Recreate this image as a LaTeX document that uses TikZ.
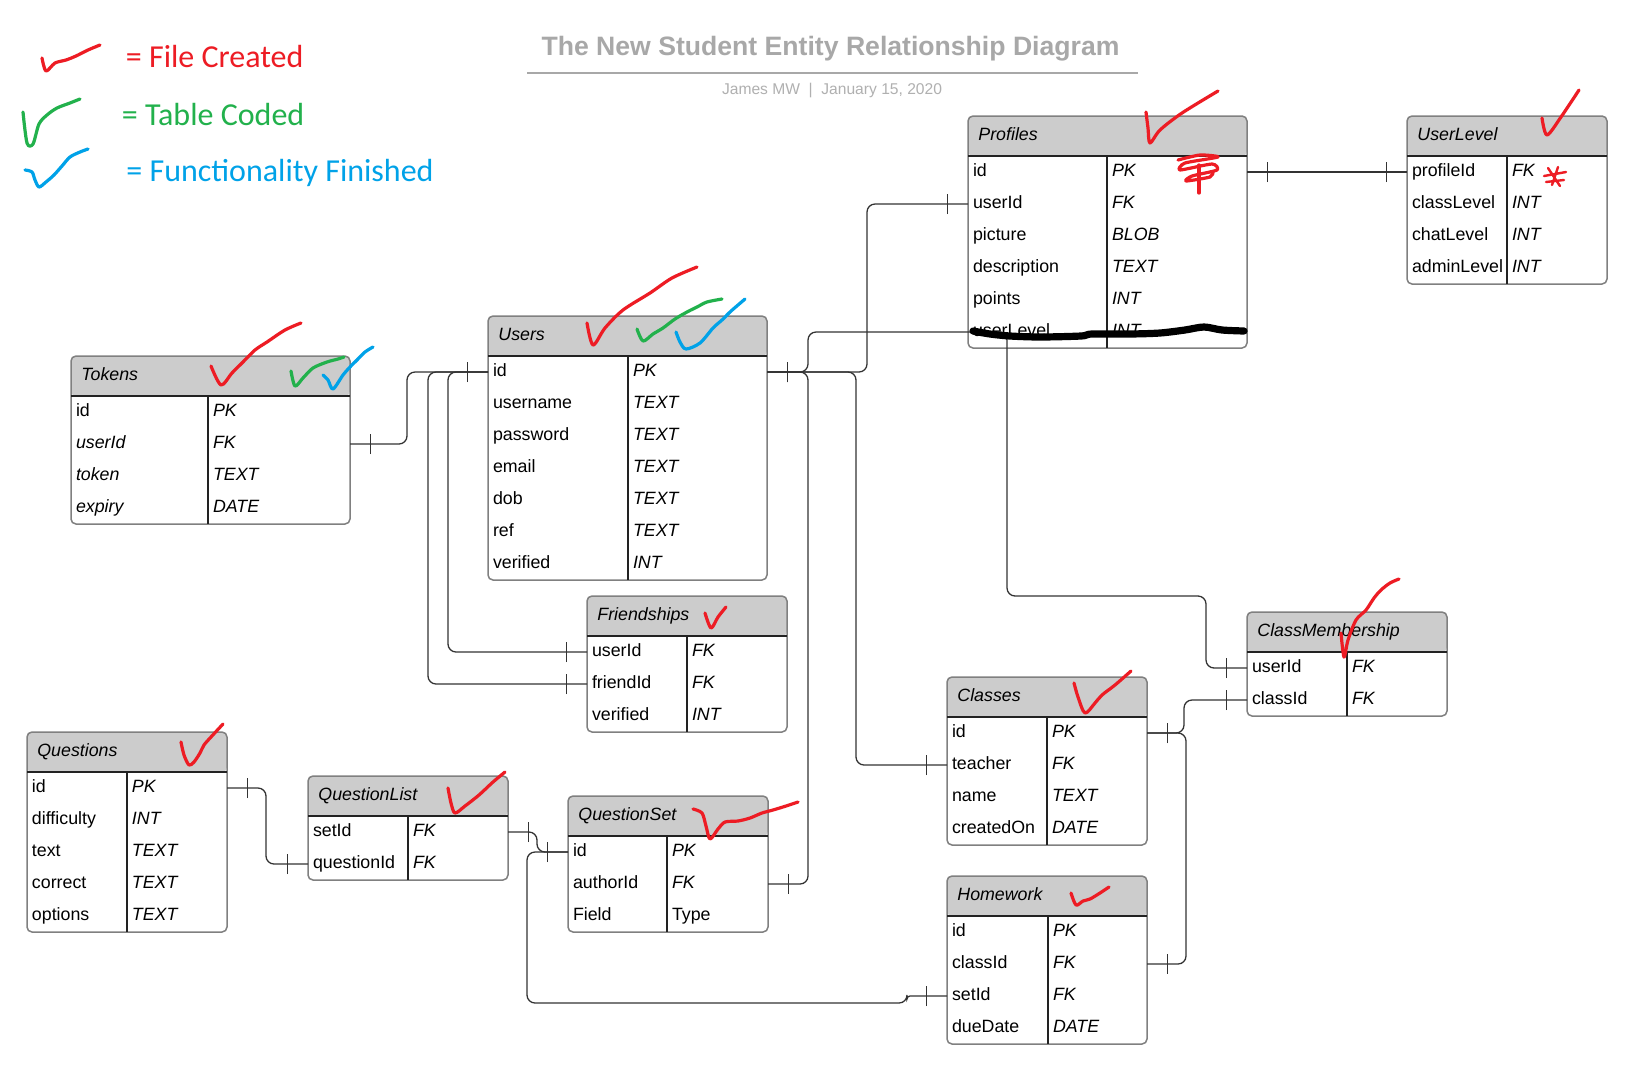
\documentclass[tikz,border=0pt]{standalone}
\usepackage{fontspec}
\setmainfont{Liberation Sans}
\newfontfamily\markerfont{Carlito}
\usetikzlibrary{calc, decorations.markings}
\definecolor{cheadgray}{HTML}{CCCCCC}
\definecolor{cframe}{HTML}{808080}
\definecolor{crule}{HTML}{222222}
\definecolor{cline}{HTML}{333333}
\definecolor{ctitle}{HTML}{A8A8A8}
\definecolor{csub}{HTML}{B0B0B0}
\definecolor{cred}{HTML}{ED1C24}
\definecolor{cgreen}{HTML}{22B14C}
\definecolor{cblue}{HTML}{00A2E8}

\begin{document}
\begin{tikzpicture}[
  x=0.5pt, y=-0.5pt,
  font=\fontsize{8.9}{10}\selectfont,
  tblbox/.style={
    rectangle, rounded corners=2.5pt, anchor=north west,
    draw=cframe, line width=0.75pt, fill=white,
    inner sep=0pt, outer sep=0pt,
    path picture={\fill[cheadgray] (path picture bounding box.north west) rectangle ([yshift=-20pt]path picture bounding box.north east);}
  },
  tblhead/.style={
    anchor=base west, inner sep=0pt,
    font=\fontsize{8.9}{10}\selectfont\itshape
  },
  tblrule/.style={draw=crule, line width=0.6pt},
  fieldrow/.style={
    anchor=north west, align=left,
    inner xsep=2.5pt, inner ysep=0pt, outer sep=0pt,
    text height=10pt, text depth=6pt
  },
  fieldwide/.style={fieldrow, text width=134.5pt},
  fieldnarrow/.style={fieldrow, text width=95pt},
  one2one/.style={
    draw=cline, line width=0.65pt, rounded corners=4pt,
    postaction={decorate, decoration={markings,
      mark=at position 10.25pt with {\draw[cline, line width=0.65pt, sharp corners] (0,-5pt) -- (0,5pt);},
      mark=at position -10.25pt with {\draw[cline, line width=0.65pt, sharp corners] (0,-5pt) -- (0,5pt);}}}
  },
  legendtext/.style={
    anchor=base west, inner sep=0pt,
    font=\markerfont\fontsize{16}{18}\selectfont
  },
  checkstroke/.style={line width=1.6pt, line cap=round, line join=round}
]

\useasboundingbox (0,0) rectangle (1637,1067);
\fill[white] (0,0) rectangle (1637,1067);

\node[anchor=base, inner sep=0pt, text=ctitle, font=\bfseries\fontsize{13.3}{16}\selectfont] (title) at (830.5,55) {The New Student Entity Relationship Diagram};
\draw[ctitle, line width=1pt] (527,73) -- (1138,73);
\node[anchor=base, inner sep=0pt, text=csub, font=\fontsize{7.8}{9}\selectfont] (byline) at (832,94) {James MW\ \ |\ \ January 15, 2020};

\node[legendtext, text=cred] (lg-file) at (125.5,67) {= File Created};
\node[legendtext, text=cgreen] (lg-table) at (121.5,125) {= Table Coded};
\node[legendtext, text=cblue] (lg-func) at (126,181) {= Functionality Finished};

\node[tblbox, minimum width=139.5pt, minimum height=84pt] (tokens) at (71,356) {};
\node[tblhead] (tokens-h) at ($(tokens.north west)+(10,24)$) {Tokens};
\draw[tblrule] ($(tokens.north west)+(0,40)$) -- ($(tokens.north east)+(0,40)$)
  ($(tokens.north west)+(137,40)$) -- ($(tokens.south west)+(137,0)$);
\foreach \f/\t [count=\i] in {id/PK, \textit{userId}/FK, \textit{token}/TEXT, \textit{expiry}/DATE}
  \node[fieldwide] (tokens-\i) at ($(tokens.north west)+(0,{8+32*\i})$) {\makebox[68.5pt][l]{\f}\textit{\t}};

\node[tblbox, minimum width=139.5pt, minimum height=132pt] (users) at (488,316) {};
\node[tblhead] (users-h) at ($(users.north west)+(10,24)$) {Users};
\draw[tblrule] ($(users.north west)+(0,40)$) -- ($(users.north east)+(0,40)$)
  ($(users.north west)+(140,40)$) -- ($(users.south west)+(140,0)$);
\foreach \f/\t [count=\i] in {id/PK, username/TEXT, password/TEXT, email/TEXT, dob/TEXT, ref/TEXT, verified/INT}
  \node[fieldwide] (users-\i) at ($(users.north west)+(0,{8+32*\i})$) {\makebox[70pt][l]{\f}\textit{\t}};

\node[tblbox, minimum width=100pt, minimum height=68pt] (friend) at (587,596) {};
\node[tblhead] (friend-h) at ($(friend.north west)+(10,24)$) {Friendships};
\draw[tblrule] ($(friend.north west)+(0,40)$) -- ($(friend.north east)+(0,40)$)
  ($(friend.north west)+(100,40)$) -- ($(friend.south west)+(100,0)$);
\foreach \f/\t [count=\i] in {userId/FK, friendId/FK, verified/INT}
  \node[fieldnarrow] (friend-\i) at ($(friend.north west)+(0,{8+32*\i})$) {\makebox[50pt][l]{\f}\textit{\t}};

\node[tblbox, minimum width=139.5pt, minimum height=116pt] (profiles) at (968,116) {};
\node[tblhead] (profiles-h) at ($(profiles.north west)+(10,24)$) {Profiles};
\draw[tblrule] ($(profiles.north west)+(0,40)$) -- ($(profiles.north east)+(0,40)$)
  ($(profiles.north west)+(139,40)$) -- ($(profiles.south west)+(139,0)$);
\foreach \f/\t [count=\i] in {id/PK, userId/FK, picture/BLOB, description/TEXT, points/INT, userLevel/INT}
  \node[fieldwide] (profiles-\i) at ($(profiles.north west)+(0,{8+32*\i})$) {\makebox[69.5pt][l]{\f}\textit{\t}};

\node[tblbox, minimum width=100pt, minimum height=84pt] (ulevel) at (1407,116) {};
\node[tblhead] (ulevel-h) at ($(ulevel.north west)+(10,24)$) {UserLevel};
\draw[tblrule] ($(ulevel.north west)+(0,40)$) -- ($(ulevel.north east)+(0,40)$)
  ($(ulevel.north west)+(100,40)$) -- ($(ulevel.south west)+(100,0)$);
\foreach \f/\t [count=\i] in {profileId/FK, classLevel/INT, chatLevel/INT, adminLevel/INT}
  \node[fieldnarrow] (ulevel-\i) at ($(ulevel.north west)+(0,{8+32*\i})$) {\makebox[50pt][l]{\f}\textit{\t}};

\node[tblbox, minimum width=100pt, minimum height=100pt] (questions) at (27,732) {};
\node[tblhead] (questions-h) at ($(questions.north west)+(10,24)$) {Questions};
\draw[tblrule] ($(questions.north west)+(0,40)$) -- ($(questions.north east)+(0,40)$)
  ($(questions.north west)+(100,40)$) -- ($(questions.south west)+(100,0)$);
\foreach \f/\t [count=\i] in {id/PK, difficulty/INT, text/TEXT, correct/TEXT, options/TEXT}
  \node[fieldnarrow] (questions-\i) at ($(questions.north west)+(0,{8+32*\i})$) {\makebox[50pt][l]{\f}\textit{\t}};

\node[tblbox, minimum width=100pt, minimum height=52pt] (qlist) at (308,776) {};
\node[tblhead] (qlist-h) at ($(qlist.north west)+(10,24)$) {QuestionList};
\draw[tblrule] ($(qlist.north west)+(0,40)$) -- ($(qlist.north east)+(0,40)$)
  ($(qlist.north west)+(100,40)$) -- ($(qlist.south west)+(100,0)$);
\foreach \f/\t [count=\i] in {setId/FK, questionId/FK}
  \node[fieldnarrow] (qlist-\i) at ($(qlist.north west)+(0,{8+32*\i})$) {\makebox[50pt][l]{\f}\textit{\t}};

\node[tblbox, minimum width=100pt, minimum height=68pt] (qset) at (568,796) {};
\node[tblhead] (qset-h) at ($(qset.north west)+(10,24)$) {QuestionSet};
\draw[tblrule] ($(qset.north west)+(0,40)$) -- ($(qset.north east)+(0,40)$)
  ($(qset.north west)+(99,40)$) -- ($(qset.south west)+(99,0)$);
\foreach \f/\t [count=\i] in {id/PK, authorId/FK, Field/\upshape Type}
  \node[fieldnarrow] (qset-\i) at ($(qset.north west)+(0,{8+32*\i})$) {\makebox[49.5pt][l]{\f}\textit{\t}};

\node[tblbox, minimum width=100pt, minimum height=84pt] (classes) at (947,677) {};
\node[tblhead] (classes-h) at ($(classes.north west)+(10,24)$) {Classes};
\draw[tblrule] ($(classes.north west)+(0,40)$) -- ($(classes.north east)+(0,40)$)
  ($(classes.north west)+(100,40)$) -- ($(classes.south west)+(100,0)$);
\foreach \f/\t [count=\i] in {id/PK, teacher/FK, name/TEXT, createdOn/DATE}
  \node[fieldnarrow] (classes-\i) at ($(classes.north west)+(0,{8+32*\i})$) {\makebox[50pt][l]{\f}\textit{\t}};

\node[tblbox, minimum width=100pt, minimum height=52pt] (cmember) at (1247,612) {};
\node[tblhead] (cmember-h) at ($(cmember.north west)+(10,24)$) {ClassMembership};
\draw[tblrule] ($(cmember.north west)+(0,40)$) -- ($(cmember.north east)+(0,40)$)
  ($(cmember.north west)+(100,40)$) -- ($(cmember.south west)+(100,0)$);
\foreach \f/\t [count=\i] in {userId/FK, classId/FK}
  \node[fieldnarrow] (cmember-\i) at ($(cmember.north west)+(0,{8+32*\i})$) {\makebox[50pt][l]{\f}\textit{\t}};

\node[tblbox, minimum width=100pt, minimum height=84pt] (hw) at (947,876) {};
\node[tblhead] (hw-h) at ($(hw.north west)+(10,24)$) {Homework};
\draw[tblrule] ($(hw.north west)+(0,40)$) -- ($(hw.north east)+(0,40)$)
  ($(hw.north west)+(101,40)$) -- ($(hw.south west)+(101,0)$);
\foreach \f/\t [count=\i] in {id/PK, classId/FK, setId/FK, dueDate/DATE}
  \node[fieldnarrow] (hw-\i) at ($(hw.north west)+(0,{8+32*\i})$) {\makebox[50.5pt][l]{\f}\textit{\t}};

\draw[one2one] (tokens-2.east) -- ++(57,0) |- (users-1.west);
\draw[one2one] (users-1.west) -- ++(-40,0) |- (friend-1.west);
\draw[one2one] (users-1.west) -- ++(-60,0) |- (friend-2.west);
\draw[one2one] (users-1.east) -- ++(100,0) |- (profiles-2.west);
\draw[one2one] (users-1.east) -- ++(41,0) -- ++(0,-40) -- ++(199,0) -- ++(0,264) -- ++(199,0) |- (cmember-1.west);
\draw[one2one] (users-1.east) -- ++(41,0) |- (qset-2.east);
\draw[one2one] (users-1.east) -- ++(89,0) |- (classes-2.west);
\draw[one2one] (profiles-1.east) -- (ulevel-1.west);
\draw[one2one] (questions-1.east) -- ++(39,0) |- (qlist-2.west);
\draw[one2one] (qlist-1.east) -- ++(29,0) |- (qset-1.west);
\draw[one2one] (qset-1.west) -- ++(-41,0) -- ++(0,151) -- ++(380,0) [rounded corners=1.5pt] |- (hw-3.west);
\draw[one2one] (classes-1.east) -- ++(37,0) |- (cmember-2.west);
\draw[one2one] (classes-1.east) -- ++(39,0) |- (hw-2.east);

\draw[checkstroke, cred] plot[smooth, tension=0.5] coordinates {(42,58) (46,71) (55,63) (66,60) (76,56) (88,50) (100,45)};
\draw[checkstroke, cgreen] plot[smooth, tension=0.5] coordinates {(23,112) (27,143) (33,144) (39,124) (47,115) (57,108) (70,103) (80,99)};
\draw[checkstroke, cblue] plot[smooth, tension=0.5] coordinates {(25,170) (32,172) (35,180) (39,187) (46,182) (54,175) (62,166) (70,157) (80,152) (88,149)};

\draw[checkstroke, cred] plot[smooth, tension=0.5] coordinates {(211,366) (221,385) (232,373) (243,362) (255,350) (267,342) (285,330) (301,323)};
\draw[checkstroke, cgreen] plot[smooth, tension=0.5] coordinates {(291,371) (295,386) (303,378) (313,368) (327,362) (338,359) (344,357)};
\draw[checkstroke, cblue] plot[smooth, tension=0.5] coordinates {(323,375) (328,380) (333,389) (343,375) (350,367) (357,360) (365,352) (373,347)};

\draw[checkstroke, cred] plot[smooth, tension=0.5] coordinates {(587,323) (593,345) (605,328) (623,310) (650,293) (672,278) (697,267)};
\draw[checkstroke, cgreen] plot[smooth, tension=0.5] coordinates {(637,329) (643,341) (653,334) (663,328) (675,319) (687,312) (697,307) (707,302) (722,299)};
\draw[checkstroke, cblue] plot[smooth, tension=0.5] coordinates {(676,332) (680,342) (686,349) (700,343) (713,328) (722,320) (730,312) (738,305) (745,299)};

\draw[checkstroke, cred] plot[smooth, tension=0.5] coordinates {(705,613) (711,628) (718,617) (726,607)};
\draw[checkstroke, cred] plot[smooth, tension=0.5] coordinates {(1146,112) (1148,128) (1150,143) (1160,130) (1182,113) (1218,91)};
\draw[checkstroke, cred] plot[smooth, tension=0.5] coordinates {(1542,118) (1547,135) (1561,117) (1579,90)};
\draw[checkstroke, cred] plot[smooth, tension=0.5] coordinates {(181,742) (184,755) (189,765) (194,762) (200,753) (204,745) (211,737) (223,724)};
\draw[checkstroke, cred] plot[smooth, tension=0.5] coordinates {(448,788) (451,803) (455,813) (465,806) (479,795) (493,782) (505,772)};
\draw[checkstroke, cred] plot[smooth, tension=0.5] coordinates {(693,809) (702,813) (706,826) (710,839) (718,829) (725,822) (738,821) (750,818) (762,813) (773,810) (786,806) (798,802)};
\draw[checkstroke, cred] plot[smooth, tension=0.5] coordinates {(1074,683) (1078,697) (1085,713) (1095,703) (1102,695) (1115,685) (1131,671)};
\draw[checkstroke, cred] plot[smooth, tension=0.5] coordinates {(1341,633) (1344,657) (1348,640) (1356,620) (1366,610) (1374,598) (1381,590) (1390,583) (1399,579)};
\draw[checkstroke, cred] plot[smooth, tension=0.5] coordinates {(1071,893) (1076,905) (1083,901) (1090,899) (1100,893) (1109,887)};

\draw[checkstroke, cred] plot[smooth, tension=0.4] coordinates {(1178,160) (1200,155) (1218,157) (1185,163) (1180,170) (1212,164) (1217,170) (1192,176) (1186,181) (1210,177) (1213,172)};
\draw[checkstroke, cred] (1199,165) -- (1199,193);
\draw[checkstroke, cred, line width=1.2pt] (1548,168) -- (1560,186) (1544,176) -- (1566,172) (1552,185) -- (1558,167) (1546,182) -- (1564,180);

\draw[black, line width=3.6pt, line cap=round, line join=round] plot[smooth, tension=0.5] coordinates {(973,331) (990,334) (1010,336) (1040,337) (1081,336) (1092,334) (1130,334) (1160,333) (1185,330) (1204,327) (1222,330) (1244,331)};

\end{tikzpicture}
\end{document}
